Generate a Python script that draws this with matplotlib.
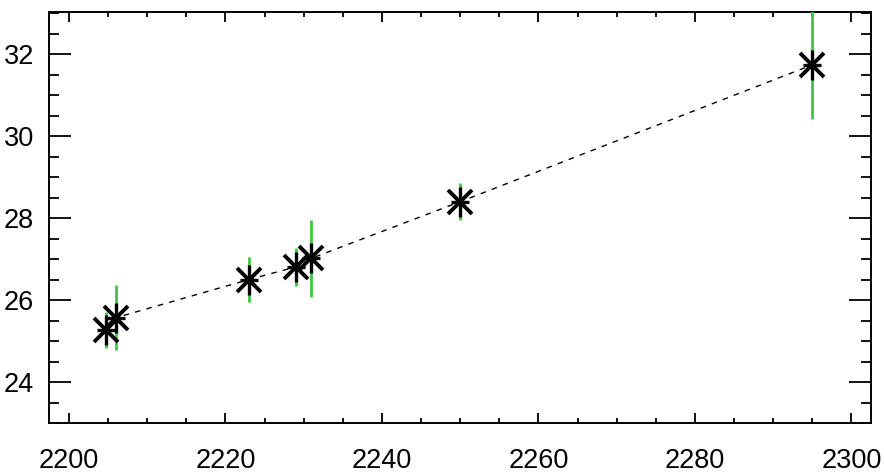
import matplotlib
matplotlib.use("Agg")
import matplotlib.pyplot as plt
from matplotlib.ticker import MultipleLocator

x_vals = [2204.8, 2206.0, 2223.0, 2229.0, 2231.0, 2250.0, 2295.0]
y_vals = [25.27, 25.57, 26.50, 26.81, 27.02, 28.40, 31.74]
y_err = [0.43, 0.80, 0.55, 0.46, 0.94, 0.45, 1.32]
x_ticks = [2200, 2220, 2240, 2260, 2280, 2300]
y_ticks = [24, 26, 28, 30, 32]

plt.rcParams['font.family'] = ['Liberation Sans', 'DejaVu Sans']

fig = plt.figure(figsize=(8.84, 4.73), dpi=100)
ax = fig.add_axes([0.0558, 0.1057, 0.9853 - 0.0558, 0.9746 - 0.1057])

ax.plot(x_vals, y_vals, linestyle=(0, (4, 4.5)), color='black', linewidth=1.0, zorder=2)
ax.errorbar(x_vals, y_vals, yerr=y_err, fmt='none', ecolor='#3cc83c',
            elinewidth=2.0, capsize=0, zorder=3)
ax.plot(x_vals, y_vals, linestyle='none', marker='x', markersize=17,
        markeredgewidth=2.8, color='black', zorder=4)
ax.plot(x_vals, y_vals, linestyle='none', marker='|', markersize=22,
        markeredgewidth=2.4, color='black', zorder=4)
ax.plot(x_vals, y_vals, linestyle='none', marker='_', markersize=13,
        markeredgewidth=2.4, color='black', zorder=4)

ax.set_xlim(2197.5, 2302.5)
ax.set_ylim(23.0, 33.03)
ax.set_xticks(x_ticks)
ax.set_yticks(y_ticks)
ax.xaxis.set_minor_locator(MultipleLocator(5))
ax.yaxis.set_minor_locator(MultipleLocator(0.5))

ax.tick_params(axis='x', which='major', direction='in', length=7.5, width=1.3,
               top=True, bottom=True, labelsize=19.5, pad=18, colors='black')
ax.tick_params(axis='x', which='minor', direction='in', length=3.5, width=1.3,
               top=True, bottom=True)
ax.tick_params(axis='y', which='major', direction='in', length=15.5, width=1.3,
               left=True, right=True, labelsize=19.5, pad=11)
ax.tick_params(axis='y', which='minor', direction='in', length=7.5, width=1.3,
               left=True, right=True)
for s in ax.spines.values():
    s.set_linewidth(1.4)

fig.savefig("out.png", dpi=100)
